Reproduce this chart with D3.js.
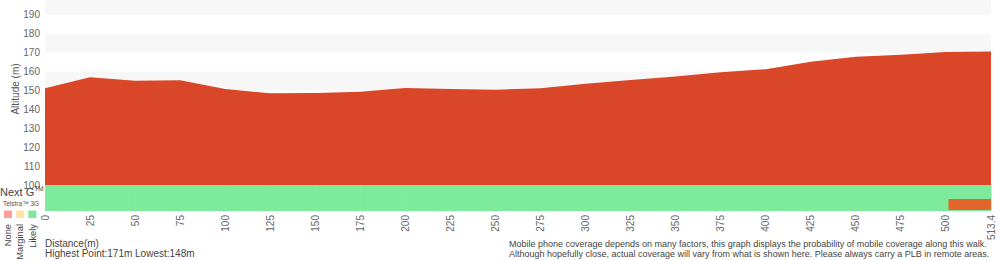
<!DOCTYPE html>
<html><head><meta charset="utf-8">
<script src="https://cdn.jsdelivr.net/npm/d3@7"></script>
<style>
html,body{margin:0;padding:0;background:#fff;}
svg{display:block;font-family:"Liberation Sans",Arial,Helvetica,sans-serif;}
</style></head><body>
<svg id="c" width="1000" height="260"></svg>
<script>
// distance samples (m) used as x categories
const distances = ["0","25","50","75","100","125","150","175","200","225","250","275","300","325","350","375","400","425","450","475","500","513.4"];
// elevation (m) at each sample
const elevations = [151.1,156.9,155.1,155.3,150.7,148.5,148.6,149.3,151.3,150.7,150.4,151.1,153.5,155.5,157.3,159.6,161.2,165.2,167.8,168.9,170.3,170.6];
// y-axis ticks
const yTicks = [100,110,120,130,140,150,160,170,180,190];
// alternating background bands (lower bound of shaded band)
const bandStarts = [110,130,150,170,190];
// coverage per segment (between consecutive samples)
const nextGCoverage = ["likely","likely","likely","likely","likely","likely","likely","likely","likely","likely","likely","likely","likely","likely","likely","likely","likely","likely","likely","likely","likely"];
const telstra3GCoverage = ["likely","likely","likely","likely","likely","likely","likely","likely","likely","likely","likely","likely","likely","likely","likely","likely","likely","likely","likely","likely","nodata"];
const legendKeys = ["None","Marginal","Likely"];
const legendColors = ["#fb9f9f","#fde2a2","#7de89b"];
const coverageColor = {none:"#fb9f9f", marginal:"#fde2a2", likely:"#7deb9b", nodata:"#e2652e"};
const notes = [
  "Mobile phone coverage depends on many factors, this graph displays the probability of mobile coverage along this walk.",
  "Although hopefully close, actual coverage will vary from what is shown here. Please always carry a PLB in remote areas."
];

const svg = d3.select("#c");
const x = d3.scalePoint().domain(distances).range([45, 991]);
const y = d3.scaleLinear().domain([100, 200]).range([185, -4.2]);

// background bands
svg.append("g").selectAll("rect").data(bandStarts).join("rect")
  .attr("x", x(distances[0])).attr("width", x(distances[distances.length-1]) - x(distances[0]))
  .attr("y", d => y(d+10)).attr("height", d => y(d) - y(d+10))
  .attr("fill", "#f7f7f7");

// elevation area
const pts = distances.map((d,i)=>({d, e: elevations[i]}));
const area = d3.area().x(p=>x(p.d)).y0(y(100)).y1(p=>y(p.e));
svg.append("path").datum(pts).attr("d", area).attr("fill", "#d94628");

// coverage rows
const rowH = 13;
function row(data, top){
  const g = svg.append("g");
  g.selectAll("rect.base").data(data).join("rect").attr("class","base")
    .attr("x", (c,i)=>x(distances[i]))
    .attr("width", (c,i)=>x(distances[i+1]) - x(distances[i]) + 0.5)
    .attr("y", top).attr("height", rowH)
    .attr("fill", c => c==="nodata" ? coverageColor.likely : coverageColor[c]);
  g.selectAll("rect.nd").data(data.map((c,i)=>({c,i})).filter(o=>o.c==="nodata")).join("rect").attr("class","nd")
    .attr("x", o=>x(distances[o.i]) + 2.5)
    .attr("width", o=>x(distances[o.i+1]) - x(distances[o.i]) - 2.5)
    .attr("y", top+1).attr("height", rowH-2)
    .attr("fill", coverageColor.nodata);
}
row(nextGCoverage, y(100));
row(telstra3GCoverage, y(100)+rowH);

// y axis labels
svg.append("g").selectAll("text").data(yTicks).join("text")
  .attr("x", 40).attr("y", d=>y(d)).attr("dy","0.35em")
  .attr("text-anchor","end").attr("font-size", 10).attr("fill","#666")
  .text(d=>d);

svg.append("text").attr("transform","translate(19,89) rotate(-90)")
  .attr("text-anchor","middle").attr("font-size",10).attr("fill","#555")
  .text("Altitude (m)");

// x axis labels
svg.append("g").selectAll("text").data(distances).join("text")
  .attr("transform", d=>`translate(${x(d)},215) rotate(-90)`)
  .attr("dy","0.35em").attr("text-anchor","end")
  .attr("font-size",10).attr("fill","#666")
  .text(d=>d);

// coverage row labels
const ng = svg.append("text").attr("x",0).attr("y",196).attr("font-size",11).attr("fill","#444");
ng.append("tspan").text("Next G");
ng.append("tspan").attr("font-size",6.5).attr("dy",-5).text("TM");
svg.append("text").attr("x",3).attr("y",206).attr("font-size",6.5).attr("fill","#555").text("Telstra™ 3G");

// legend
svg.append("g").selectAll("rect").data(legendKeys).join("rect")
  .attr("x",(d,i)=>4 + i*12.2).attr("y",210.5).attr("width",8).attr("height",7.5)
  .attr("fill",(d,i)=>legendColors[i]);
svg.append("g").selectAll("text").data(legendKeys).join("text")
  .attr("transform",(d,i)=>`translate(${8 + i*12.2},224) rotate(-90)`)
  .attr("dy","0.35em").attr("text-anchor","end")
  .attr("font-size",9.3).attr("fill","#444").text(d=>d);

// bottom texts
svg.append("text").attr("x",45).attr("y",246.5).attr("font-size",10).attr("fill","#444").text("Distance(m)");
svg.append("text").attr("x",45).attr("y",256.5).attr("font-size",10).attr("fill","#444")
  .text(`Highest Point:${Math.round(d3.max(elevations))}m Lowest:${Math.floor(d3.min(elevations))}m`);
svg.append("g").selectAll("text").data(notes).join("text")
  .attr("x",509).attr("y",(d,i)=>246.5 + i*10).attr("font-size",9).attr("fill","#444")
  .text(d=>d);
</script>
</body></html>
